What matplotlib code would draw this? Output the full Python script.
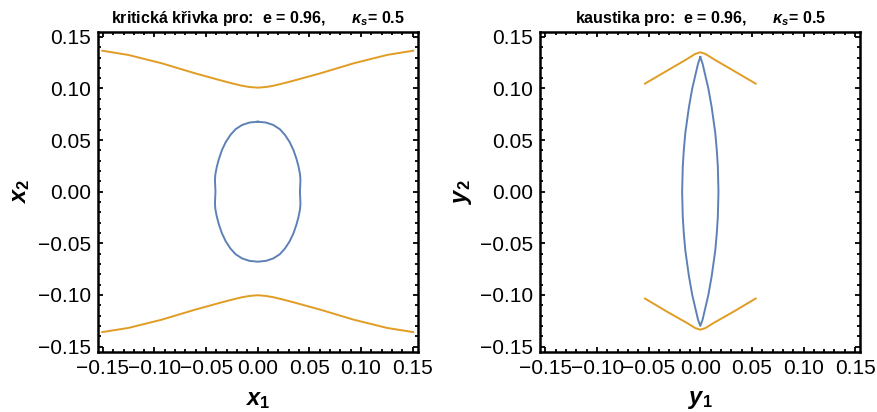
import matplotlib
matplotlib.use("Agg")
import matplotlib.pyplot as plt
from matplotlib.ticker import MultipleLocator, FuncFormatter

plt.rcParams['font.family'] = ['Liberation Sans', 'DejaVu Sans']
plt.rcParams['mathtext.fontset'] = 'custom'
plt.rcParams['mathtext.it'] = 'Liberation Sans:italic:bold'
plt.rcParams['mathtext.rm'] = 'Liberation Sans:bold'
plt.rcParams['mathtext.bf'] = 'Liberation Sans:bold'

BLUE = '#5E81B5'
ORANGE = '#E19C24'

# ---- critical curves (left panel) ----
crit_in_x = [0.0, 0.0080, 0.0152, 0.0215, 0.0265, 0.0310, 0.0346, 0.0375, 0.0396, 0.0410, 0.0414, 0.0412, 0.0409,
             0.0412, 0.0414, 0.0410, 0.0396, 0.0375, 0.0346, 0.0310, 0.0265, 0.0215, 0.0152, 0.0080, 0.0,
             -0.0080, -0.0152, -0.0215, -0.0265, -0.0310, -0.0346, -0.0375, -0.0396, -0.0410, -0.0414, -0.0412, -0.0409,
             -0.0412, -0.0414, -0.0410, -0.0396, -0.0375, -0.0346, -0.0310, -0.0265, -0.0215, -0.0152, -0.0080, 0.0]
crit_in_y = [0.0678, 0.0670, 0.0646, 0.0605, 0.0549, 0.0480, 0.0404, 0.0320, 0.0242, 0.0170, 0.0115, 0.0060, 0.0,
             -0.0060, -0.0115, -0.0170, -0.0242, -0.0320, -0.0404, -0.0480, -0.0549, -0.0605, -0.0646, -0.0670, -0.0678,
             -0.0670, -0.0646, -0.0605, -0.0549, -0.0480, -0.0404, -0.0320, -0.0242, -0.0170, -0.0115, -0.0060, 0.0,
             0.0060, 0.0115, 0.0170, 0.0242, 0.0320, 0.0404, 0.0480, 0.0549, 0.0605, 0.0646, 0.0670, 0.0678]

crit_out_x = [-0.1506, -0.1254, -0.0930, -0.0607, -0.0349, -0.0250, -0.0155, -0.0080, 0.0,
              0.0080, 0.0155, 0.0250, 0.0349, 0.0607, 0.0930, 0.1254, 0.1506]
crit_out_top_y = [0.1366, 0.1325, 0.1244, 0.1147, 0.1076, 0.1050, 0.1027, 0.1014, 0.1008,
                  0.1014, 0.1027, 0.1050, 0.1076, 0.1147, 0.1244, 0.1325, 0.1366]
crit_out_bot_y = [-0.1360, -0.1320, -0.1240, -0.1143, -0.1072, -0.1046, -0.1023, -0.1010, -0.1003,
                  -0.1010, -0.1023, -0.1046, -0.1072, -0.1143, -0.1240, -0.1320, -0.1360]

# ---- caustics (right panel) ----
caus_in_x = [0.0, 0.0022, 0.0043, 0.0078, 0.0110, 0.0145, 0.0160, 0.0170, 0.0176,
             0.0170, 0.0160, 0.0145, 0.0110, 0.0078, 0.0043, 0.0022, 0.0,
             -0.0022, -0.0043, -0.0078, -0.0110, -0.0145, -0.0160, -0.0170, -0.0176,
             -0.0170, -0.0160, -0.0145, -0.0110, -0.0078, -0.0043, -0.0022, 0.0]
caus_in_y = [0.1305, 0.124, 0.115, 0.100, 0.082, 0.057, 0.040, 0.024, 0.0,
             -0.024, -0.040, -0.057, -0.082, -0.100, -0.115, -0.124, -0.1300,
             -0.124, -0.115, -0.100, -0.082, -0.057, -0.040, -0.024, 0.0,
             0.024, 0.040, 0.057, 0.082, 0.100, 0.115, 0.124, 0.1305]

caus_out_x = [-0.0536, -0.0326, -0.0132, -0.0051, 0.0, 0.0051, 0.0132, 0.0326, 0.0536]
caus_out_top_y = [0.1047, 0.1170, 0.1283, 0.1334, 0.1351, 0.1334, 0.1283, 0.1170, 0.1047]
caus_out_bot_y = [-0.1035, -0.1160, -0.1270, -0.1320, -0.1337, -0.1320, -0.1270, -0.1160, -0.1035]

ticks = [-0.15, -0.10, -0.05, 0.0, 0.05, 0.10, 0.15]
lim = 0.155


def fmt(v, pos):
    s = f'{v:.2f}'
    if s == '-0.00':
        s = '0.00'
    return s.replace('-', '\u2212')


fig = plt.figure(figsize=(8.78, 4.12), dpi=100)
ax1 = fig.add_axes([97.7 / 878, (412 - 351.7) / 412, 320 / 878, 320 / 412])
ax2 = fig.add_axes([540.3 / 878, (412 - 351.7) / 412, 320 / 878, 320 / 412])

ax1.plot(crit_in_x, crit_in_y, color=BLUE, lw=1.4)
ax1.plot(crit_out_x, crit_out_top_y, color=ORANGE, lw=1.4)
ax1.plot(crit_out_x, crit_out_bot_y, color=ORANGE, lw=1.4)

ax2.plot(caus_in_x, caus_in_y, color=BLUE, lw=1.4)
ax2.plot(caus_out_x, caus_out_top_y, color=ORANGE, lw=1.4)
ax2.plot(caus_out_x, caus_out_bot_y, color=ORANGE, lw=1.4)

titles = ['kritická křivka pro:  e = 0.96,      $\\kappa_s$= 0.5',
          'kaustika pro:  e = 0.96,      $\\kappa_s$= 0.5']
xlabels = ['$x_1$', '$y_1$']
ylabels = ['$x_2$', '$y_2$']

for ax, t, xl, yl in zip([ax1, ax2], titles, xlabels, ylabels):
    ax.set_xlim(-lim, lim)
    ax.set_ylim(-lim, lim)
    ax.set_xticks(ticks)
    ax.set_yticks(ticks)
    ax.xaxis.set_minor_locator(MultipleLocator(0.01))
    ax.yaxis.set_minor_locator(MultipleLocator(0.01))
    ax.xaxis.set_major_formatter(FuncFormatter(fmt))
    ax.yaxis.set_major_formatter(FuncFormatter(fmt))
    ax.tick_params(which='both', direction='in', top=True, right=True, width=1.3, color='black')
    ax.tick_params(which='major', length=3.8, labelsize=15, pad=5)
    ax.tick_params(which='minor', length=2.2)
    for sp in ax.spines.values():
        sp.set_linewidth(1.8)
    ax.set_title(t, fontsize=11.5, fontweight='bold', pad=6)
    ax.text(0.5, -0.151, xl, transform=ax.transAxes, ha='center', va='center', fontsize=17)
    ax.text(-0.24, 0.5, yl, transform=ax.transAxes, ha='center', va='center', fontsize=17, rotation=90)

fig.savefig('out.png', dpi=100)
